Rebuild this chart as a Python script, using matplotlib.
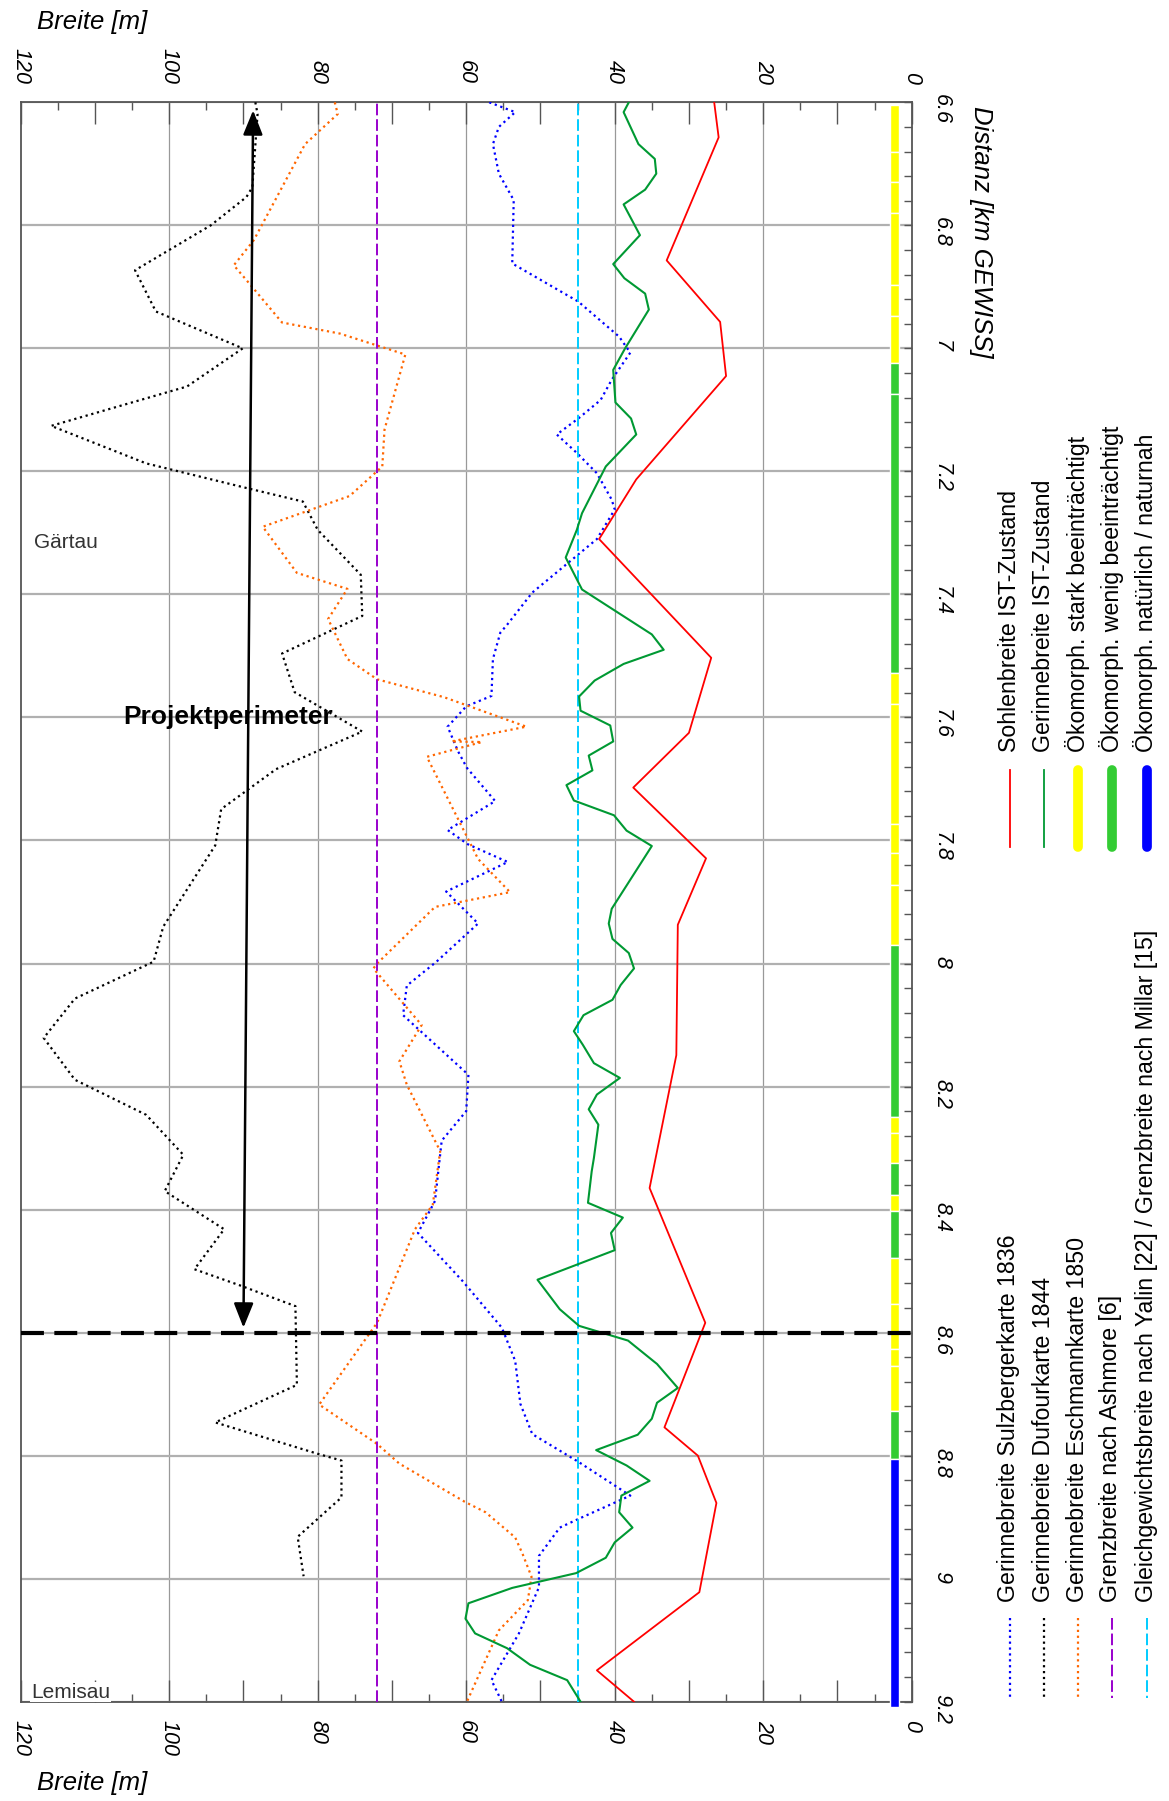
import matplotlib
matplotlib.use("Agg")
import numpy as np
import matplotlib.pyplot as plt
from matplotlib.lines import Line2D
from matplotlib.ticker import MultipleLocator, FuncFormatter

plt.rcParams["font.family"] = ["Liberation Sans", "DejaVu Sans"]

# --- Daten (Distanz in km GEWISS, Breite in m) ---
sohle_km = [6.60, 6.657, 6.857, 6.957, 7.045, 7.213, 7.31, 7.503, 7.625, 7.714, 7.829,
            7.937, 8.149, 8.365, 8.584, 8.754, 8.80, 8.877, 9.022, 9.149, 9.20]
sohle_b = [26.6, 26.0, 33.0, 25.8, 25.0, 37.1, 42.1, 27.0, 30.0, 37.5, 27.7,
           31.5, 31.7, 35.3, 27.8, 33.3, 28.8, 26.3, 28.6, 42.4, 37.4]

gerinne_km = [6.60, 6.616, 6.668, 6.692, 6.716, 6.742, 6.766, 6.816, 6.863, 6.886,
              6.911, 6.937, 7.0, 7.035, 7.088, 7.114, 7.14, 7.192, 7.268, 7.295,
              7.34, 7.392, 7.465, 7.49, 7.513, 7.540, 7.566, 7.589, 7.613, 7.639,
              7.662, 7.686, 7.710, 7.735, 7.759, 7.784, 7.809, 7.911, 7.935, 7.96,
              7.983, 8.008, 8.035, 8.059, 8.084, 8.11, 8.132, 8.162, 8.186, 8.213,
              8.237, 8.262, 8.316, 8.338, 8.389, 8.413, 8.438, 8.466, 8.514, 8.562,
              8.589, 8.613, 8.651, 8.69, 8.714, 8.74, 8.766, 8.791, 8.816, 8.841,
              8.865, 8.892, 8.917, 8.941, 8.966, 8.991, 9.015, 9.04, 9.065, 9.089,
              9.113, 9.14, 9.165, 9.20]
gerinne_b = [38.1, 38.8, 36.8, 34.6, 34.4, 35.9, 38.8, 36.6, 40.2, 38.7,
             35.9, 35.4, 38.6, 40.2, 39.9, 37.8, 37.1, 41.2, 44.4, 45.1,
             46.6, 44.4, 35.0, 33.4, 38.8, 42.7, 44.8, 44.6, 40.6, 40.2,
             43.5, 43.0, 46.5, 45.5, 40.1, 38.4, 35.0, 40.4, 40.8, 40.3,
             38.1, 37.4, 39.2, 40.3, 44.2, 45.5, 44.3, 42.8, 39.3, 42.4,
             43.5, 42.2, 42.8, 43.1, 43.6, 38.9, 40.5, 40.0, 50.4, 47.4,
             44.8, 38.2, 34.3, 31.5, 34.3, 35.0, 36.9, 42.5, 38.4, 35.3,
             39.1, 39.4, 37.6, 40.0, 41.2, 45.2, 53.8, 59.7, 60.1, 58.8,
             54.5, 51.4, 46.4, 44.6]

sulz_km = [6.60, 6.616, 6.64, 6.668, 6.716, 6.759, 6.862, 6.924, 6.981, 7.007,
           7.051, 7.084, 7.114, 7.14, 7.17, 7.203, 7.246, 7.262, 7.31, 7.34,
           7.397, 7.451, 7.462, 7.505, 7.565, 7.582, 7.615, 7.655, 7.682, 7.736,
           7.783, 7.806, 7.835, 7.883, 7.935, 7.997, 8.036, 8.084, 8.181, 8.24,
           8.288, 8.386, 8.438, 8.516, 8.592, 8.646, 8.716, 8.765, 8.81, 8.865,
           8.903, 8.917, 8.963, 9.014, 9.089, 9.165, 9.20]
sulz_b = [56.9, 53.4, 55.6, 56.4, 55.6, 53.6, 53.8, 44.9, 39.4, 37.9,
          40.4, 41.9, 44.9, 47.8, 45.1, 42.4, 40.4, 40.0, 42.4, 45.4,
          51.1, 54.6, 55.4, 56.4, 56.6, 60.0, 62.5, 61.1, 59.9, 56.1,
          62.5, 59.8, 54.4, 62.7, 58.4, 64.0, 68.0, 68.5, 59.7, 60.0,
          63.3, 64.2, 66.5, 60.5, 55.2, 53.4, 52.7, 51.1, 44.9, 37.9,
          44.9, 47.4, 50.2, 50.2, 52.9, 56.6, 55.2]

dufour_km = [6.60, 6.619, 6.738, 6.754, 6.80, 6.873, 6.94, 7.0, 7.062, 7.126,
             7.187, 7.227, 7.249, 7.295, 7.368, 7.435, 7.496, 7.559, 7.623, 7.684,
             7.749, 7.808, 7.94, 7.997, 8.057, 8.121, 8.189, 8.246, 8.311, 8.370,
             8.432, 8.497, 8.524, 8.557, 8.685, 8.746, 8.797, 8.808, 8.868, 8.932,
             8.996]
dufour_b = [88.4, 88.1, 88.8, 89.6, 94.4, 104.6, 101.8, 90.1, 97.6, 115.9,
            103.1, 89.6, 82.0, 80.0, 74.2, 74.0, 84.8, 83.1, 74.0, 85.6,
            93.0, 93.8, 100.8, 102.1, 112.7, 116.9, 112.7, 103.1, 98.1, 100.6,
            92.6, 96.6, 90.3, 83.0, 82.8, 93.8, 80.0, 76.8, 76.8, 82.7,
            81.9]

eschmann_km = [6.60, 6.619, 6.668, 6.824, 6.865, 6.889, 6.958, 6.976, 7.01, 7.132,
               7.192, 7.24, 7.29, 7.365, 7.391, 7.44, 7.505, 7.538, 7.567, 7.615,
               7.639, 7.640, 7.664, 7.83, 7.884, 7.908, 8.0, 8.008, 8.1, 8.159,
               8.197, 8.305, 8.392, 8.432, 8.584, 8.717, 8.781, 8.813, 8.875, 8.892,
               8.933, 8.96, 8.997, 9.035, 9.084, 9.20]
eschmann_b = [77.7, 77.3, 81.7, 88.6, 91.3, 89.6, 84.8, 77.0, 68.2, 71.0,
              71.3, 75.7, 87.4, 82.8, 76.0, 78.6, 76.0, 72.0, 63.0, 51.9,
              62.0, 57.9, 65.3, 58.4, 54.1, 64.2, 72.0, 72.5, 66.0, 69.0,
              68.0, 63.5, 64.5, 66.9, 72.0, 79.8, 72.0, 69.0, 60.2, 57.4,
              53.4, 52.4, 51.2, 51.7, 55.6, 59.9]

ashmore_b = 72.0
yalin_b = 45.0
perimeter_km = 8.6

# Oekomorphologie-Abschnitte
seg_start = [6.605, 6.68, 6.73, 6.78, 6.897, 6.947, 7.024, 7.075, 7.528, 7.578,
             7.773, 7.821, 7.873, 7.97, 8.25, 8.275, 8.325, 8.376, 8.402, 8.478,
             8.553, 8.627, 8.654, 8.727, 8.805]
seg_end = [6.68, 6.73, 6.78, 6.897, 6.947, 7.024, 7.075, 7.528, 7.578, 7.773,
           7.821, 7.873, 7.97, 8.25, 8.275, 8.325, 8.376, 8.402, 8.478, 8.553,
           8.627, 8.654, 8.727, 8.805, 9.208]
seg_class = ["stark", "stark", "stark", "stark", "stark", "stark", "wenig", "wenig",
             "stark", "stark", "stark", "stark", "stark", "wenig", "stark", "stark",
             "wenig", "stark", "wenig", "stark", "stark", "stark", "stark", "wenig",
             "natur"]
class_colors = {"stark": "#ffff00", "wenig": "#33cc33", "natur": "#0000ff"}

breite_ticks = [0, 20, 40, 60, 80, 100, 120]

# --- Figur ---
W, H = 1169, 1801
fig = plt.figure(figsize=(W / 100, H / 100), dpi=100)


def fx(px):
    return px / W


def fy(py):
    return 1 - py / H


ax = fig.add_axes([fx(20.7), fy(1701.7), fx(911.7) - fx(20.7), fy(102.3) - fy(1701.7)])
ax.set_xlim(120, 0)
ax.set_ylim(9.2, 6.6)

for g in breite_ticks[1:-1]:
    ax.axvline(g, color="#999999", lw=0.9, zorder=0.5)
ax.grid(axis="y", which="major", color="#b0b0b0", lw=1.6, zorder=0.5)
ax.set_axisbelow(True)

ax.plot(sulz_b, sulz_km, color="#0000ff", ls=":", lw=1.6, zorder=3)
ax.plot(dufour_b, dufour_km, color="black", ls=":", lw=1.6, zorder=3)
ax.plot(eschmann_b, eschmann_km, color="#ff6600", ls=":", lw=1.6, zorder=3)
ax.axvline(ashmore_b, color="#9900cc", lw=1.4, dashes=(6, 2), zorder=3)
ax.axvline(yalin_b, color="#00ccff", lw=1.4, dashes=(6, 2), zorder=3)
ax.plot(gerinne_b, gerinne_km, color="#009933", lw=1.5, zorder=4)
ax.plot(sohle_b, sohle_km, color="#ff0000", lw=1.3, zorder=4)

ax.axhline(perimeter_km, color="black", lw=3, dashes=(5.5, 2.5), zorder=5)

seg_len = np.array(seg_end) - np.array(seg_start)
ax.bar([2.3] * len(seg_start), seg_len, bottom=seg_start, width=1.25,
       color=[class_colors[c] for c in seg_class], edgecolor="white",
       linewidth=1.0, clip_on=False, zorder=4)

ax.annotate("", xy=(90.0, 8.592), xytext=(88.7, 6.613),
            arrowprops=dict(arrowstyle="<|-|>,head_length=0.75,head_width=0.3",
                            mutation_scale=20, color="black", lw=1.8,
                            shrinkA=0, shrinkB=0),
            annotation_clip=False, zorder=6)
ax.text(92.1, 7.599, "Projektperimeter", fontsize=19, fontweight="bold",
        ha="center", va="center", zorder=7)
ax.text(118.2, 7.316, "Gärtau", fontsize=15, color="#333333", ha="left", va="center")
ax.text(118.6, 9.2, "Lemisau", fontsize=15, color="#333333", ha="left", va="bottom",
        bbox=dict(facecolor="white", edgecolor="none", pad=0.5), zorder=8)

# Achsen
ax.xaxis.set_major_locator(MultipleLocator(10))
ax.xaxis.set_minor_locator(MultipleLocator(5))
ax.xaxis.set_major_formatter(FuncFormatter(
    lambda v, p: f"{v:.0f}" if round(v) in breite_ticks else ""))
ax.yaxis.set_major_locator(MultipleLocator(0.2))
ax.yaxis.set_minor_locator(MultipleLocator(0.04))
ax.yaxis.set_major_formatter(FuncFormatter(lambda v, p: f"{round(v, 1):g}"))

ax.tick_params(axis="x", which="both", direction="in", top=True, bottom=True,
               labeltop=True, labelbottom=True, color="#555555", width=1.0,
               labelrotation=-90, labelsize=15.5, pad=13)
ax.tick_params(axis="x", which="major", length=16)
ax.tick_params(axis="x", which="minor", length=6)
ax.tick_params(axis="y", which="both", direction="in", left=False, right=True,
               labelleft=False, labelright=True, color="#555555", width=1.0,
               length=6, labelrotation=-90, labelsize=15.5, pad=14)
for lbl in ax.get_xticklabels(which="both") + ax.get_yticklabels(which="both"):
    lbl.set_fontstyle("italic")
for sp in ax.spines.values():
    sp.set_color("#555555")
    sp.set_linewidth(1.3)

fig.text(fx(37), fy(22), "Breite [m]", fontsize=18.5, fontstyle="italic", ha="left", va="center")
fig.text(fx(37), fy(1783), "Breite [m]", fontsize=18.5, fontstyle="italic", ha="left", va="center")
fig.text(fx(981), fy(106), "Distanz [km GEWISS]", fontsize=18.5, fontstyle="italic",
         rotation=-90, ha="center", va="top")

# Legende
leg_x = [1010, 1044, 1078, 1112, 1147]
upper_labels = ["Sohlenbreite IST-Zustand", "Gerinnebreite IST-Zustand",
                "Ökomorph. stark beeinträchtigt", "Ökomorph. wenig beeinträchtigt",
                "Ökomorph. natürlich / naturnah"]
upper_styles = [dict(color="#ff0000", lw=1.3),
                dict(color="#009933", lw=1.3),
                dict(color="#ffff00", lw=7, solid_capstyle="round"),
                dict(color="#33cc33", lw=7, solid_capstyle="round"),
                dict(color="#0000ff", lw=7, solid_capstyle="round")]
lower_labels = ["Gerinnebreite Sulzbergerkarte 1836", "Gerinnebreite Dufourkarte 1844",
                "Gerinnebreite Eschmannkarte 1850", "Grenzbreite nach Ashmore [6]",
                "Gleichgewichtsbreite nach Yalin [22] / Grenzbreite nach Millar [15]"]
lower_styles = [dict(color="#0000ff", lw=1.6, ls=":"),
                dict(color="black", lw=1.6, ls=":"),
                dict(color="#ff6600", lw=1.6, ls=":"),
                dict(color="#9900cc", lw=1.4, dashes=(6, 2)),
                dict(color="#00ccff", lw=1.4, dashes=(6, 2))]

for labels, styles, y_text, y0, y1 in [(upper_labels, upper_styles, 752, 770, 847),
                                       (lower_labels, lower_styles, 1602, 1618, 1698)]:
    for x, label, style in zip(leg_x, labels, styles):
        fig.add_artist(Line2D([fx(x), fx(x)], [fy(y0), fy(y1)],
                              transform=fig.transFigure, **style))
        fig.text(fx(x - 1), fy(y_text), label, fontsize=16.7, rotation=90,
                 ha="center", va="bottom")

fig.savefig("out.png", dpi=100)
plt.close(fig)
